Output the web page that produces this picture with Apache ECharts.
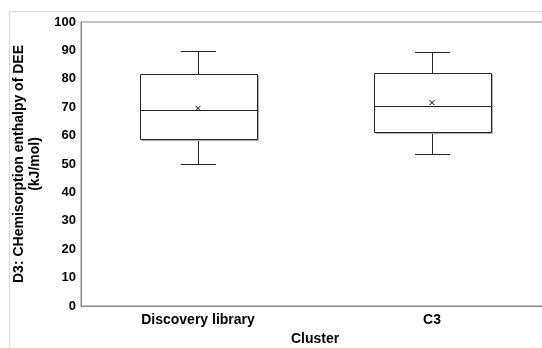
<!DOCTYPE html>
<html>
<head>
<meta charset="utf-8">
<script src="https://cdn.jsdelivr.net/npm/echarts@6/dist/echarts.min.js"></script>
<style>
html,body{margin:0;padding:0;background:#fff;overflow:hidden;}
#chart{width:542px;height:348px;}
</style>
</head>
<body>
<div id="chart"></div>
<script>
const categories = ['Discovery library', 'C3'];
const whiskerMin = [50.0, 53.5];
const q1 = [58.8, 61.3];
const median = [69.0, 70.5];
const q3 = [81.8, 82.1];
const whiskerMax = [89.8, 89.6];
const means = [69.6, 71.6];
const yTicks = [0, 10, 20, 30, 40, 50, 60, 70, 80, 90, 100];

const FONT = '"Liberation Sans", Arial, sans-serif';

const boxData = categories.map((c, i) => [i, whiskerMin[i], q1[i], median[i], q3[i], whiskerMax[i]]);
const meanData = categories.map((c, i) => [i, means[i]]);

function px(v) { return Math.round(v) + 0.5; }

const chart = echarts.init(document.getElementById('chart'), null, { renderer: 'canvas' });
chart.setOption({
  animation: false,
  backgroundColor: '#fff',
  graphic: [{
    type: 'line',
    shape: { x1: 9.5, y1: 11.5, x2: 542, y2: 11.5 },
    style: { stroke: '#d9d9d9', lineWidth: 1 },
    silent: true, z: -10
  }, {
    type: 'line',
    shape: { x1: 9.5, y1: 11.5, x2: 9.5, y2: 348 },
    style: { stroke: '#d9d9d9', lineWidth: 1 },
    silent: true, z: -10
  }],
  grid: {
    left: 81, top: 22, width: 468, height: 284,
    outerBoundsMode: 'none',
    containLabel: false,
    show: true, borderColor: '#868686', borderWidth: 1, backgroundColor: 'transparent'
  },
  xAxis: {
    type: 'category',
    data: categories,
    axisLine: { show: true, lineStyle: { color: '#868686' } },
    axisTick: { show: false },
    splitLine: { show: false },
    axisLabel: { color: '#000', fontFamily: FONT, fontWeight: 'bold', fontSize: 14, margin: 7 },
    name: 'Cluster',
    nameLocation: 'middle',
    nameGap: 20,
    nameTextStyle: { color: '#000', fontFamily: FONT, fontWeight: 'bold', fontSize: 14 }
  },
  yAxis: {
    type: 'value',
    min: yTicks[0], max: yTicks[yTicks.length - 1], interval: yTicks[1] - yTicks[0],
    axisLine: { show: true, lineStyle: { color: '#868686' } },
    axisTick: { show: false },
    splitLine: { show: false },
    axisLabel: { color: '#000', fontFamily: FONT, fontWeight: 'bold', fontSize: 13, margin: 5 },
    name: 'D3: CHemisorption enthalpy of DEE\n(kJ/mol)',
    nameLocation: 'middle',
    nameRotate: 90,
    nameGap: 31,
    nameTextStyle: { color: '#000', fontFamily: FONT, fontWeight: 'bold', fontSize: 14, lineHeight: 16, align: 'center' }
  },
  series: [{
    type: 'custom',
    data: boxData,
    encode: { x: 0, y: [1, 2, 3, 4, 5] },
    renderItem: function (params, api) {
      const x = api.value(0);
      const pMin = api.coord([x, api.value(1)]);
      const pQ1 = api.coord([x, api.value(2)]);
      const pMed = api.coord([x, api.value(3)]);
      const pQ3 = api.coord([x, api.value(4)]);
      const pMax = api.coord([x, api.value(5)]);
      const band = api.size([1, 0])[0];
      const bw = band * 0.5;
      const cw = band * 0.15;
      const cx = px(pMin[0]);
      const lineStyle = { stroke: '#262626', lineWidth: 1 };
      const L = Math.round(cx - bw / 2) + 0.5, R = Math.round(cx + bw / 2) + 0.5;
      const yQ3 = px(pQ3[1]), yQ1 = px(pQ1[1]);
      return {
        type: 'group',
        children: [
          { type: 'line', shape: { x1: cx, y1: px(pMax[1]), x2: cx, y2: yQ3 }, style: lineStyle },
          { type: 'line', shape: { x1: cx, y1: yQ1, x2: cx, y2: px(pMin[1]) }, style: lineStyle },
          { type: 'line', shape: { x1: Math.round(cx - cw / 2), y1: px(pMax[1]), x2: Math.round(cx + cw / 2), y2: px(pMax[1]) }, style: lineStyle },
          { type: 'line', shape: { x1: Math.round(cx - cw / 2), y1: px(pMin[1]), x2: Math.round(cx + cw / 2), y2: px(pMin[1]) }, style: lineStyle },
          { type: 'line', shape: { x1: R + 1, y1: yQ3 + 1, x2: R + 1, y2: yQ1 + 1 }, style: { stroke: '#b0b0b0', lineWidth: 1 } },
          { type: 'line', shape: { x1: L + 1, y1: yQ1 + 1, x2: R + 1, y2: yQ1 + 1 }, style: { stroke: '#b0b0b0', lineWidth: 1 } },
          { type: 'rect', shape: { x: L, y: yQ3, width: R - L, height: yQ1 - yQ3 }, style: { fill: '#fff', stroke: '#262626', lineWidth: 1 } },
          { type: 'line', shape: { x1: L, y1: px(pMed[1]), x2: R, y2: px(pMed[1]) }, style: lineStyle }
        ]
      };
    },
    z: 2
  }, {
    type: 'scatter',
    data: meanData,
    symbol: 'path://M0,0L10,10M10,0L0,10',
    symbolSize: 5,
    itemStyle: { color: 'transparent', borderColor: '#000', borderWidth: 1, opacity: 1 },
    z: 5
  }]
});
</script>
</body>
</html>
